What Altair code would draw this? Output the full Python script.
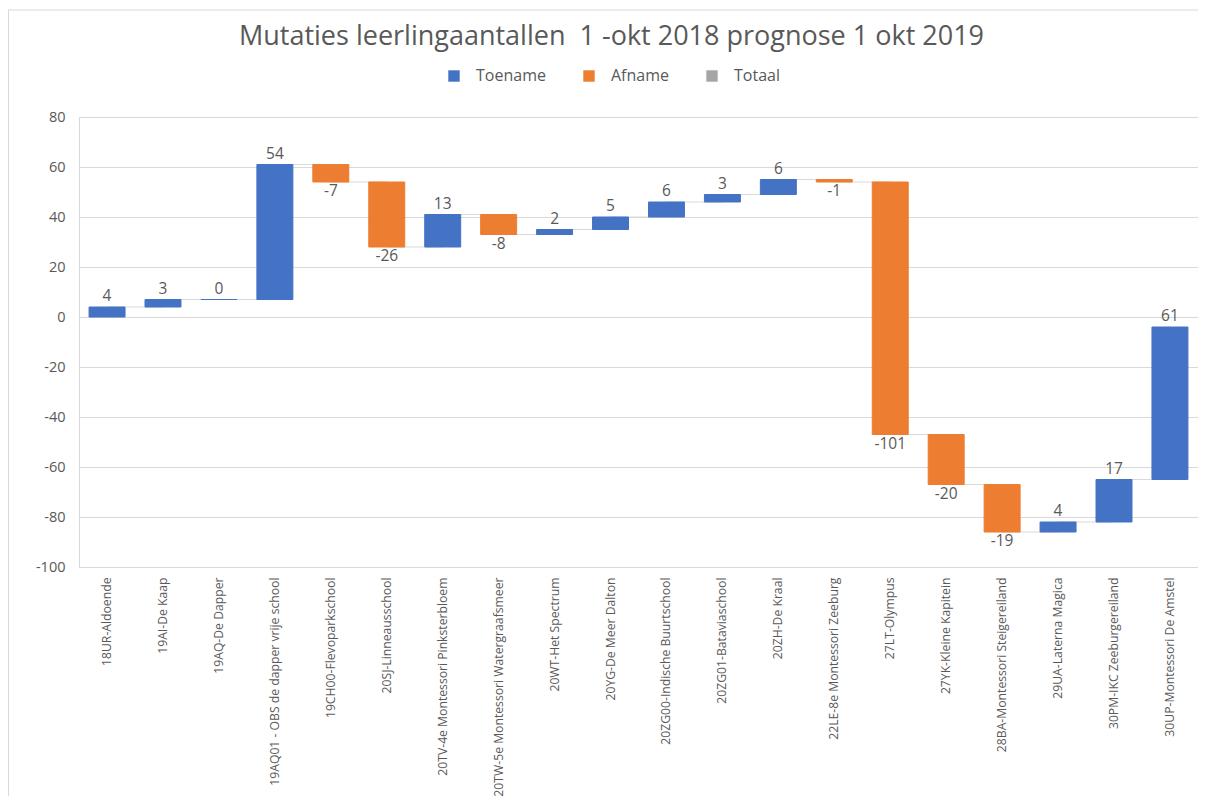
import altair as alt
import pandas as pd
import numpy as np

schools = [
    "18UR-Aldoende", "19AI-De Kaap", "19AQ-De Dapper",
    "19AQ01 - OBS de dapper vrije school", "19CH00-Flevoparkschool",
    "20SJ-Linneausschool", "20TV-4e Montessori Pinksterbloem",
    "20TW-5e Montessori Watergraafsmeer", "20WT-Het Spectrum",
    "20YG-De Meer Dalton", "20ZG00-Indische Buurtschool",
    "20ZG01-Bataviaschool", "20ZH-De Kraal", "22LE-8e Montessori Zeeburg",
    "27LT-Olympus", "27YK-Kleine Kapitein", "28BA-Montessori Steigereiland",
    "29UA-Laterna Magica", "30PM-IKC Zeeburgereiland",
    "30UP-Montessori De Amstel",
]
changes = [4, 3, 0, 54, -7, -26, 13, -8, 2, 5, 6, 3, 6, -1, -101, -20, -19, 4, 17, 61]

legend_names = ["Toename", "Afname", "Totaal"]
legend_colors = ["#4472C4", "#ED7D31", "#A5A5A5"]
y_ticks = [-100, -80, -60, -40, -20, 0, 20, 40, 60, 80]

df = pd.DataFrame({"school": schools, "change": changes})
df["end"] = df["change"].cumsum()
df["start"] = df["end"] - df["change"]
df["type"] = np.where(df["change"] >= 0, "Toename", "Afname")
df["next"] = df["school"].shift(-1)
df["label"] = df["change"].astype(str)

TXT = "#595959"
GRID = "#D9D9D9"
FONT = "Open Sans"

xenc = alt.X("school:N", sort=schools,
             scale=alt.Scale(paddingInner=0.357, paddingOuter=0.18),
             axis=alt.Axis(title=None, labelAngle=-90, labelAlign="right",
                           labelBaseline="middle", labelPadding=10,
                           labelFontSize=12.2, labelColor=TXT, labelFont=FONT,
                           ticks=False, domain=False, grid=False,
                           labelLimit=400))
yscale = alt.Scale(domain=[-100, 80], nice=False, zero=False)

base = alt.Chart(df)

connectors = base.transform_filter("datum.next != null").mark_rule(
    color=GRID, strokeWidth=1
).encode(
    x=xenc,
    x2=alt.X2("next:N"),
    y=alt.Y("end:Q", scale=yscale),
)

bars = base.mark_bar(strokeWidth=1).encode(
    x=xenc,
    y=alt.Y("start:Q", scale=yscale,
            axis=alt.Axis(title=None, values=y_ticks, grid=True, gridColor=GRID,
                          gridWidth=1, ticks=False, domain=True,
                          domainColor=GRID, labelPadding=14,
                          labelExpr="'' + datum.value",
                          labelFontSize=14.5, labelColor=TXT, labelFont=FONT)),
    y2="end:Q",
    color=alt.Color("type:N",
                    scale=alt.Scale(domain=legend_names, range=legend_colors),
                    legend=alt.Legend(title=None, orient="none",
                                      direction="horizontal",
                                      legendX=367, legendY=-49,
                                      symbolType="square", symbolSize=130,
                                      symbolStrokeWidth=0,
                                      labelFontSize=16, labelColor=TXT,
                                      labelFont=FONT, columnPadding=35,
                                      symbolOffset=0, labelOffset=14)),
    stroke=alt.Stroke("type:N",
                      scale=alt.Scale(domain=legend_names, range=legend_colors),
                      legend=None),
)

up_labels = base.transform_filter("datum.change >= 0").mark_text(
    baseline="bottom", dy=-3, fontSize=15.5, color=TXT, font=FONT
).encode(x=xenc, y=alt.Y("end:Q", scale=yscale), text="label:N")

down_labels = base.transform_filter("datum.change < 0").mark_text(
    baseline="top", dy=2, fontSize=15.5, color=TXT, font=FONT
).encode(x=xenc, y=alt.Y("end:Q", scale=yscale), text="label:N")

border_left = alt.Chart(df.head(1)).mark_rule(color=GRID, strokeWidth=1).encode(
    x=alt.value(-70.5), y=alt.value(-107), y2=alt.value(690))
border_top = alt.Chart(df.head(1)).mark_rule(color=GRID, strokeWidth=1).encode(
    x=alt.value(-71), x2=alt.value(1125), y=alt.value(-107))

chart = alt.layer(
    border_left, border_top, connectors, bars, up_labels, down_labels
).properties(
    width=1119, height=450,
    title=alt.Title("Mutaties leerlingaantallen \u00a01 -okt 2018 prognose 1 okt 2019",
                    fontSize=27, font=FONT, fontWeight="normal", color=TXT,
                    anchor="middle", frame="group", dx=-27, offset=-41),
    autosize=alt.AutoSizeParams(type="none"),
    padding={"left": 71, "top": 109, "right": 0, "bottom": 229},
).configure_view(stroke=None).configure(background="white")

chart.save("out.html", embed_options={"renderer": "svg", "actions": False})
